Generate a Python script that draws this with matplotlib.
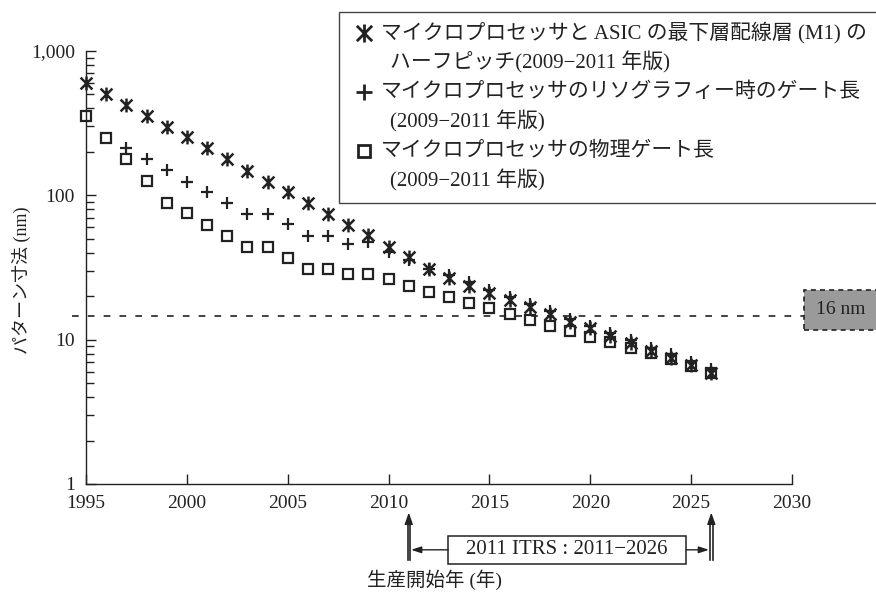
import numpy as np
import matplotlib
matplotlib.use("Agg")
import matplotlib.pyplot as plt
from matplotlib.path import Path
from matplotlib.lines import Line2D
from matplotlib.patches import Rectangle
from matplotlib.transforms import blended_transform_factory
from matplotlib.ticker import FixedLocator, FuncFormatter, LogLocator, NullFormatter

plt.rcParams["font.family"] = ["Liberation Serif", "Noto Sans CJK JP"]

INK = "#222222"

years_m1 = list(range(1995, 2027))
m1_half_pitch = [604, 504, 424, 355, 299, 253, 212, 178, 148, 124, 105, 88, 74, 62,
                 53, 44, 37.5, 31, 26.8, 23.6, 21.0, 18.8, 16.8, 15.0, 13.3, 12.0,
                 10.6, 9.5, 8.4, 7.5, 6.7, 5.9]

years_litho = list(range(1997, 2027))
litho_gate = [213, 179, 150, 124, 106, 89, 74, 74, 63, 52, 52, 46, 47.5, 40.7, 35.5,
              31, 28, 25, 22, 19.8, 17.7, 15.8, 14.0, 12.5, 11.1, 9.9, 8.8, 7.9, 7.0, 6.3]

years_phys = list(range(1995, 2027))
phys_gate = [355, 251, 178, 125, 88, 75, 62, 52, 44, 44, 37, 31, 31, 28.5, 28.5, 26.2,
             23.7, 21.5, 19.7, 18.0, 16.5, 15.0, 13.7, 12.5, 11.5, 10.5, 9.6, 8.8, 8.1,
             7.4, 6.6, 5.9]

legend_lines = [
    ("マイクロプロセッサと ASIC の最下層配線層 (M1) の", "ハーフピッチ(2009−2011 年版)"),
    ("マイクロプロセッサのリソグラフィー時のゲート長", "(2009−2011 年版)"),
    ("マイクロプロセッサの物理ゲート長", "(2009−2011 年版)"),
]

line_level = 14.6
line_label = "16 nm"
itrs_start, itrs_end = 2011, 2026
itrs_label = "2011 ITRS : 2011−2026"
x_ticks = [1995, 2000, 2005, 2010, 2015, 2020, 2025, 2030]
y_ticks = [1, 10, 100, 1000]

# asterisk: vertical bar plus an X
star = Path([(0, -1), (0, 1), (-0.85, -0.85), (0.85, 0.85), (-0.85, 0.85), (0.85, -0.85)],
            [Path.MOVETO, Path.LINETO] * 3)

W, H = 876, 592


def fx(px):
    return px / W


def fy(py):
    return 1 - py / H


fig = plt.figure(figsize=(W / 100, H / 100), dpi=100)
ax = fig.add_axes([fx(86), fy(484), (792 - 86) / W, (484 - 51) / H])

ax.plot(years_m1, m1_half_pitch, linestyle="none", marker=star, markersize=10,
        markeredgewidth=1.8, color=INK, zorder=3, clip_on=False)
ax.plot(years_litho, litho_gate, linestyle="none", marker="+", markersize=8,
        markeredgewidth=1.6, color=INK, zorder=3, clip_on=False)
ax.plot(years_phys, phys_gate, linestyle="none", marker="s", markersize=7,
        markeredgewidth=1.6, markerfacecolor="none", color=INK, zorder=3, clip_on=False)

ax.set_yscale("log")
ax.set_xlim(1995, 2030)
ax.set_ylim(1, 1000)
ax.xaxis.set_major_locator(FixedLocator(x_ticks))
ax.yaxis.set_major_locator(FixedLocator(y_ticks))
ax.yaxis.set_major_formatter(FuncFormatter(lambda v, p: f"{v:,.0f}"))
ax.yaxis.set_minor_locator(LogLocator(base=10, subs=np.arange(2, 10)))
ax.yaxis.set_minor_formatter(NullFormatter())
ax.tick_params(which="both", direction="in", color=INK, width=1.0, labelcolor=INK,
               labelsize=14)
ax.tick_params(which="major", length=7, pad=8)
ax.tick_params(which="minor", length=6)
for side in ("top", "right"):
    ax.spines[side].set_visible(False)
for side in ("left", "bottom"):
    ax.spines[side].set_color(INK)
    ax.spines[side].set_linewidth(1.0)

# 16 nm reference line and its tag
ax.plot([1994.3, 2030.6], [line_level, line_level], color=INK, lw=1.2,
        linestyle=(0, (4, 5.5)), clip_on=False, zorder=2)
ax.add_patch(Rectangle((2030.6, 11.7), 3.6, 22.1 - 11.7, facecolor="#9a9a9a",
                       edgecolor=INK, lw=1.2, linestyle=(0, (3, 2.5)), clip_on=False))
ax.text(2032.4, np.sqrt(11.7 * 22.1), line_label, ha="center", va="center",
        fontsize=14, color=INK, clip_on=False)

# axis labels
ax.text(-0.092, 0.47, "パターン寸法 (nm)", transform=ax.transAxes, rotation=90,
        ha="center", va="center", fontsize=13, color=INK)
bt = blended_transform_factory(ax.transData, ax.transAxes)
ax.text(2012.3, -0.222, "生産開始年 (年)", transform=bt, ha="center", va="center",
        fontsize=14, color=INK, clip_on=False)

# ITRS span arrows below the axis
y_tail, y_tip, y_mid = -0.176, -0.066, -0.152
for xv in (itrs_start, itrs_end):
    for dx in (-0.06, 0.06):
        ax.plot([xv + dx, xv + dx], [y_tail, y_tip - 0.02], transform=bt, color=INK,
                lw=1.2, clip_on=False)
    ax.annotate("", xy=(xv, y_tip), xytext=(xv, y_tip - 0.025), xycoords=bt,
                textcoords=bt, annotation_clip=False,
                arrowprops=dict(arrowstyle="-|>,head_length=0.7,head_width=0.25",
                                color=INK, lw=1.0, shrinkA=0, shrinkB=0))
box_x0, box_x1 = 2012.95, 2024.75
ax.add_patch(Rectangle((box_x0, -0.185), box_x1 - box_x0, 0.065, transform=bt,
                       facecolor="white", edgecolor=INK, lw=1.1, clip_on=False))
ax.text((box_x0 + box_x1) / 2, y_mid, itrs_label, transform=bt, ha="center",
        va="center", fontsize=15, color=INK, clip_on=False)
ax.annotate("", xy=(itrs_start + 0.12, y_mid), xytext=(box_x0, y_mid), xycoords=bt,
            textcoords=bt, annotation_clip=False,
            arrowprops=dict(arrowstyle="-|>,head_length=0.6,head_width=0.2",
                            color=INK, lw=1.0, shrinkA=0, shrinkB=0))
ax.annotate("", xy=(itrs_end - 0.12, y_mid), xytext=(box_x1, y_mid), xycoords=bt,
            textcoords=bt, annotation_clip=False,
            arrowprops=dict(arrowstyle="-|>,head_length=0.6,head_width=0.2",
                            color=INK, lw=1.0, shrinkA=0, shrinkB=0))

# legend box drawn by hand so the marker sits on the first line
fig.add_artist(Rectangle((fx(339), fy(203)), fx(890 - 339), (203 - 12) / H,
                         transform=fig.transFigure, facecolor="white",
                         edgecolor="#444444", lw=1.0, zorder=5))
legend_markers = [
    dict(marker=star, markersize=13, markeredgewidth=2.0, markerfacecolor="none"),
    dict(marker="+", markersize=11, markeredgewidth=2.0),
    dict(marker="s", markersize=9, markeredgewidth=2.0, markerfacecolor="none"),
]
row_y = [33, 92, 151]
for (first, second), y0, mk in zip(legend_lines, row_y, legend_markers):
    fig.add_artist(Line2D([fx(364)], [fy(y0)], transform=fig.transFigure,
                          linestyle="none", color=INK, zorder=6, **mk))
    fig.text(fx(381), fy(y0), first, ha="left", va="center", fontsize=15,
             color=INK, zorder=6)
    fig.text(fx(390), fy(y0 + 29.5), second, ha="left", va="center", fontsize=15,
             color=INK, zorder=6)

fig.savefig("out.png", dpi=100)
